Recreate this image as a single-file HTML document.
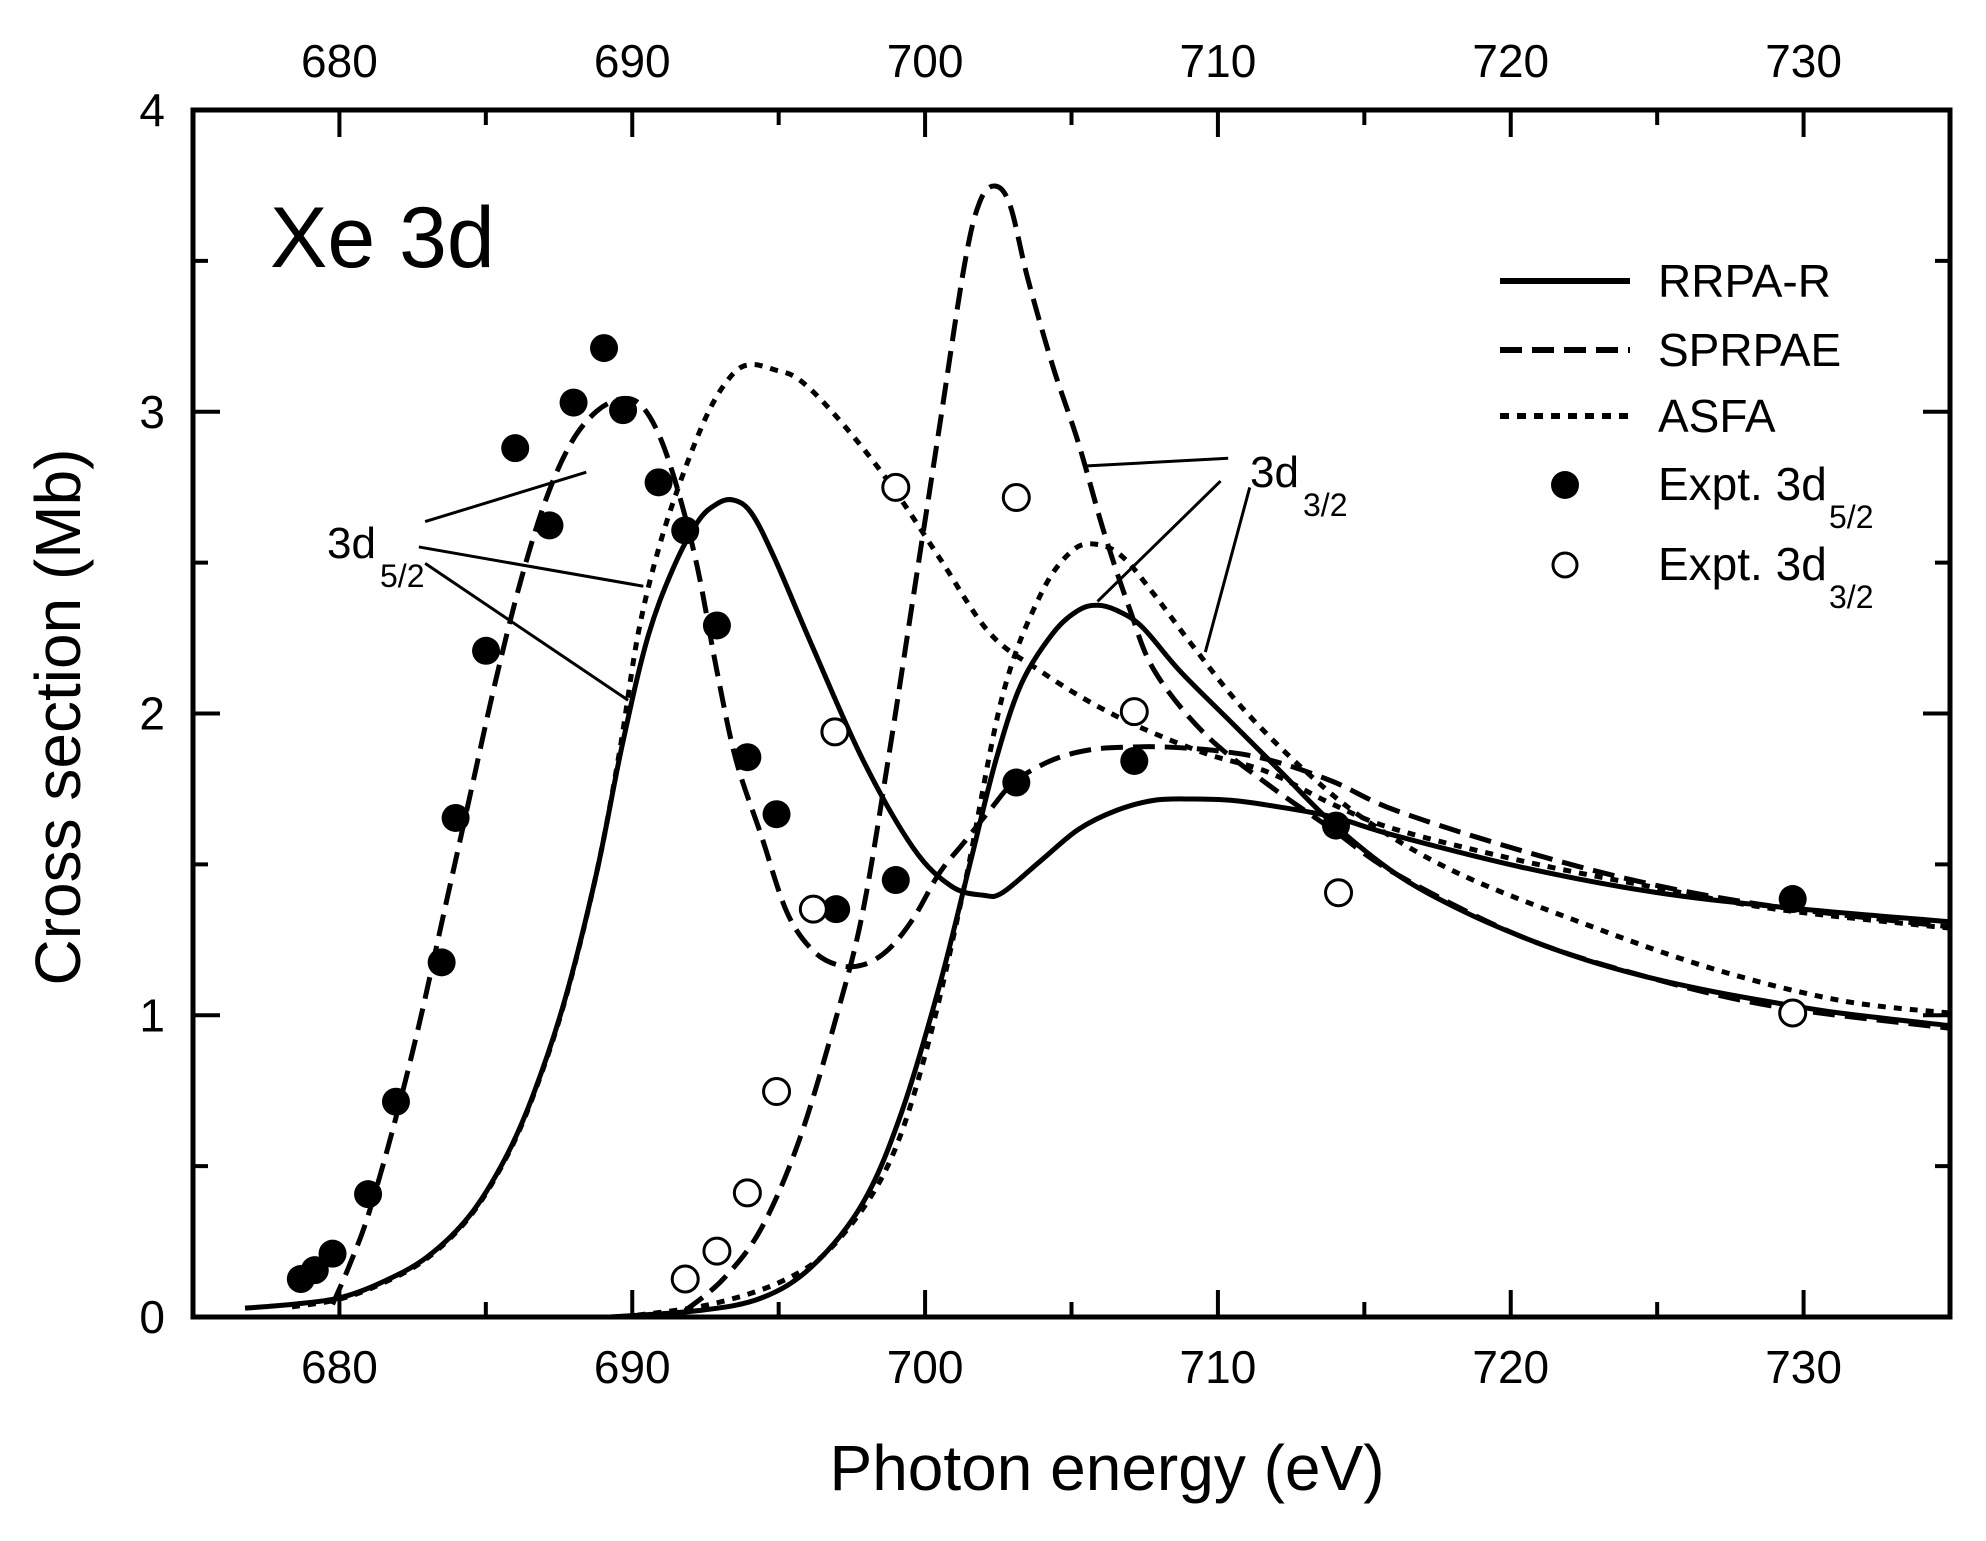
<!DOCTYPE html>
<html><head><meta charset="utf-8"><style>
html,body{margin:0;padding:0;background:#fff;}
svg{display:block;font-family:"Liberation Sans",Arial,sans-serif;}
</style></head><body>
<svg id="s" width="1986" height="1541" viewBox="0 0 1986 1541" xmlns="http://www.w3.org/2000/svg">
<rect width="1986" height="1541" fill="#fff"/>
<g id="curves" fill="none" stroke="#000" stroke-width="5" stroke-linejoin="round"></g>
<g id="marks"></g>
<g id="axes" stroke="#000" fill="none"></g>
<rect x="193" y="110" width="1757" height="1207" fill="none" stroke="#000" stroke-width="5"/>
<g font-size="46" fill="#000" id="labels"></g>
<text x="270" y="267" font-size="86">Xe 3d</text>
<text x="1107" y="1490" font-size="64" text-anchor="middle">Photon energy (eV)</text>
<text transform="translate(80,717) rotate(-90)" font-size="64" text-anchor="middle">Cross section (Mb)</text>
<g stroke="#000" stroke-width="6">
<line x1="1500" y1="281" x2="1630" y2="281"/>
<line x1="1500" y1="350" x2="1630" y2="350" stroke-dasharray="22,10"/>
<line x1="1500" y1="416" x2="1630" y2="416" stroke-dasharray="9,8"/>
</g>
<circle cx="1565" cy="485" r="14" fill="#000"/>
<circle cx="1565" cy="565" r="12" fill="#fff" stroke="#000" stroke-width="3"/>
<g font-size="46" fill="#000">
<text x="1658" y="297">RRPA-R</text>
<text x="1658" y="366">SPRPAE</text>
<text x="1658" y="432">ASFA</text>
<text x="1658" y="500">Expt. 3d</text>
<text x="1829" y="528" font-size="32">5/2</text>
<text x="1658" y="580">Expt. 3d</text>
<text x="1829" y="608" font-size="32">3/2</text>
</g>
<g font-size="44" fill="#000">
<text x="327" y="558">3d</text>
<text x="380" y="587" font-size="32">5/2</text>
<text x="1250" y="487">3d</text>
<text x="1303" y="516" font-size="32">3/2</text>
</g>
<g id="ann" stroke="#000" stroke-width="3"></g>
</svg>
<script>
var NS="http://www.w3.org/2000/svg";
function X(p){return 193+(p-152)*1757/1385;}
function Y(p){return 110+(p-87)*1207/953;}
function el(parent,tag,attrs){var e=document.createElementNS(NS,tag);for(var k in attrs)e.setAttribute(k,attrs[k]);document.getElementById(parent).appendChild(e);return e;}
function path(pts){var d="";for(var i=0;i<pts.length;i++){var x=X(pts[i][0]),y=Y(pts[i][1]);
 if(i==0)d+="M"+x+","+y;else{var p0=pts[Math.max(i-2,0)],p1=pts[i-1],p2=pts[i],p3=pts[Math.min(i+1,pts.length-1)];
 var c1x=X(p1[0])+(X(p2[0])-X(p0[0]))/6,c1y=Y(p1[1])+(Y(p2[1])-Y(p0[1]))/6,c2x=X(p2[0])-(X(p3[0])-X(p1[0]))/6,c2y=Y(p2[1])-(Y(p3[1])-Y(p1[1]))/6;
 d+="C"+c1x+","+c1y+" "+c2x+","+c2y+" "+x+","+y;}}return d;}
var low=[[193,1033],[230,1030],[267,1025],[300,1013],[336,993],[370,960],[398,915],[420,865],[445,790],[470,690],[490,590]];
var rr5=low.concat([[510,505],[530,450],[550,412],[565,398],[578,395],[592,405],[610,440],[640,510],[680,600],[720,670],[750,700],[775,707],[790,705],[820,680],[850,655],[880,640],[910,632],[940,631],[970,632],[1000,636],[1050,645],[1100,660],[1200,685],[1300,704],[1400,716],[1537,728]]);
var rr3=[[480,1040],[550,1035],[600,1025],[640,1000],[680,950],[710,880],[740,780],[765,680],[785,600],[805,540],[830,500],[850,482],[865,478],[880,482],[900,495],[930,530],[970,570],[1010,610],[1050,650],[1100,690],[1150,718],[1200,740],[1250,758],[1300,772],[1350,783],[1400,792],[1450,800],[1537,810]];
var sp5=[[262,1030],[275,1000],[290,960],[310,890],[330,810],[350,720],[370,630],[390,540],[410,460],[430,395],[450,350],[470,325],[490,315],[505,320],[520,345],[535,390],[550,450],[565,530],[580,600],[600,660],[620,720],[640,750],[660,762],[680,762],[700,750],[720,725],[740,690],[760,665],[780,640],[800,617],[830,600],[860,592],[890,590],[920,590],[960,593],[1000,600],[1050,617],[1100,640],[1200,672],[1300,698],[1400,716],[1537,732]];
var sp3=[[540,1035],[570,1010],[600,970],[630,900],[660,800],[680,720],[700,600],[720,470],[740,340],[760,210],[772,160],[784,147],[796,162],[810,220],[830,290],[850,350],[870,420],[890,480],[910,530],[950,580],[1000,620],[1050,655],[1100,690],[1200,740],[1300,772],[1400,795],[1537,812]];
var as5=[[230,1032],[267,1026],[300,1014],[336,994],[370,961],[398,916],[420,866],[445,791],[470,690],[488,595],[503,500],[520,430],[540,370],[560,322],[578,295],[592,288],[610,292],[630,300],[660,330],[700,380],[740,440],[780,500],[820,530],[860,555],[900,575],[950,595],[1000,610],[1050,635],[1100,655],[1200,680],[1300,700],[1400,718],[1537,733]];
var as3=[[490,1040],[560,1030],[620,1010],[660,980],[700,920],[730,830],[760,700],[790,550],[820,470],[845,435],[865,430],[885,440],[910,470],[940,510],[980,560],[1030,610],[1080,650],[1150,690],[1250,730],[1350,765],[1450,790],[1537,800]];
el("curves","path",{d:path(rr5)});el("curves","path",{d:path(rr3)});
el("curves","path",{d:path(sp5),"stroke-dasharray":"22,10"});el("curves","path",{d:path(sp3),"stroke-dasharray":"22,10"});
el("curves","path",{d:path(as5),"stroke-dasharray":"8,8"});el("curves","path",{d:path(as3),"stroke-dasharray":"8,8"});
var f=[[237,1010],[248,1003],[262,990],[290,943],[312,870],[348,760],[359,646],[383,514],[406,354],[433,415],[452,318],[476,275],[491,324],[519,381],[540,419],[565,494],[589,598],[612,643],[659,718],[706,695],[801,618],[894,601],[1053,652],[1413,710]];
f.forEach(function(p){el("marks","circle",{cx:X(p[0]),cy:Y(p[1]),r:14,fill:"#000"});});
var o=[[540,1010],[565,988],[589,942],[612,862],[641,718],[658,578],[706,385],[801,393],[894,562],[1055,705],[1413,800]];
o.forEach(function(p){el("marks","circle",{cx:X(p[0]),cy:Y(p[1]),r:13,fill:"#fff",stroke:"#000","stroke-width":3});});
var a=[[335,412,462,373],[330,432,507,463],[335,445,495,553],[857,368,968,362],[865,475,962,380],[950,515,985,385]];
a.forEach(function(l){el("ann","line",{x1:X(l[0]),y1:Y(l[1]),x2:X(l[2]),y2:Y(l[3])});});
for(var e=675;e<=735;e+=5){var x=193+(e-675)*1757/60;var L=(e%10==0)?27:15;
 el("axes","line",{x1:x,y1:1317,x2:x,y2:1317-L,"stroke-width":4});el("axes","line",{x1:x,y1:110,x2:x,y2:110+L,"stroke-width":4});
 if(e%10==0){var t=el("labels","text",{x:x,y:1383,"text-anchor":"middle"});t.textContent=e;var t2=el("labels","text",{x:x,y:77,"text-anchor":"middle"});t2.textContent=e;}}
for(var v=0;v<=4;v+=0.5){var y=1317-v*1207/4;var L=(v%1==0)?27:15;
 el("axes","line",{x1:193,y1:y,x2:193+L,y2:y,"stroke-width":4});el("axes","line",{x1:1950,y1:y,x2:1950-L,y2:y,"stroke-width":4});
 if(v%1==0){var t=el("labels","text",{x:165,y:y+16,"text-anchor":"end"});t.textContent=v;}}
</script>
</body></html>
